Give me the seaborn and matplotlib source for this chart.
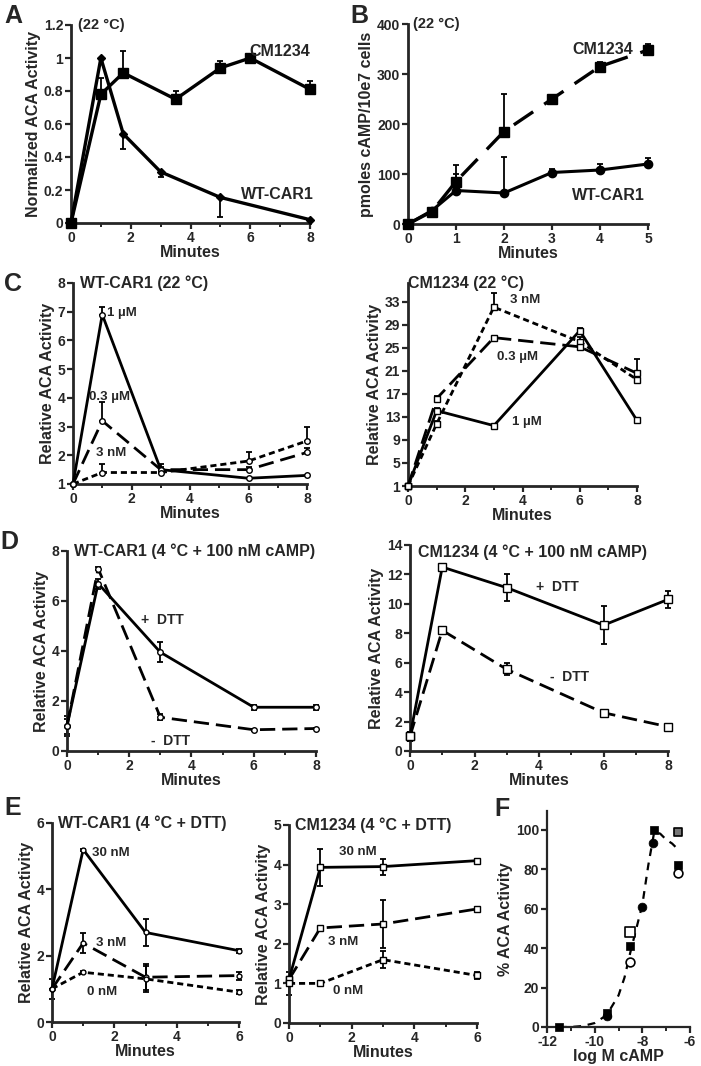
import numpy as np
import pandas as pd
import matplotlib
matplotlib.use("Agg")
import matplotlib.pyplot as plt
import seaborn as sns
from matplotlib.ticker import MultipleLocator

# ---------------- data ----------------
# A: normalized ACA activity (22 C)
a_cm_x = [0, 1, 1.75, 3.5, 5, 6, 8]
a_cm_y = [0, 0.78, 0.91, 0.75, 0.94, 1.0, 0.81]
a_cm_err = [0, 0.10, 0.13, 0.05, 0.04, 0, 0.05]
a_wt_x = [0, 1, 1.75, 3, 5, 8]
a_wt_y = [0, 1.0, 0.54, 0.31, 0.155, 0.02]
a_wt_err = [0, 0, 0.09, 0.03, 0.12, 0]

# B: pmoles cAMP / 10e7 cells
b_x = [0, 0.5, 1, 2, 3, 4, 5]
b_cm_y = [0, 25, 85, 185, 250, 315, 348]
b_cm_err = [0, 5, 33, 75, 8, 10, 12]
b_wt_y = [0, 27, 67, 62, 103, 108, 120]
b_wt_err = [0, 3, 33, 73, 8, 12, 13]

# C: relative ACA activity, dose series (22 C)
c_x = [0, 1, 3, 6, 8]
c_wt_1um = [1, 6.9, 1.5, 1.2, 1.3]
c_wt_1um_err = [0, 0.25, 0.2, 0, 0]
c_wt_03um = [1, 3.2, 1.5, 1.5, 2.1]
c_wt_03um_err = [0, 0.65, 0.1, 0.1, 0.15]
c_wt_3nm = [1, 1.4, 1.4, 1.8, 2.5]
c_wt_3nm_err = [0, 0.3, 0, 0.3, 0.5]
c_cm_3nm = [1, 11.8, 32.1, 26.1, 19.5]
c_cm_3nm_err = [0, 0.5, 2.5, 0.8, 0.8]
c_cm_03um = [1, 16.2, 26.8, 25.2, 20.6]
c_cm_03um_err = [0, 0.5, 0, 0.5, 2.4]
c_cm_1um = [1, 14.1, 11.5, 28.0, 12.4]
c_cm_1um_err = [0, 0.4, 0.3, 0.4, 0.3]

# D: 4 C + 100 nM cAMP, +/- DTT
d_x = [0, 1, 3, 6, 8]
d_wt_plus = [1.0, 6.7, 3.95, 1.75, 1.75]
d_wt_plus_err = [0.4, 0.2, 0.4, 0.1, 0.1]
d_wt_minus = [1.0, 7.3, 1.35, 0.85, 0.9]
d_wt_minus_err = [0.3, 0.05, 0.12, 0.03, 0.03]
d_cm_plus = [1.0, 12.5, 11.1, 8.55, 10.3]
d_cm_plus_err = [0.3, 0.1, 0.9, 1.3, 0.55]
d_cm_minus = [1.0, 8.2, 5.55, 2.6, 1.65]
d_cm_minus_err = [0.3, 0.1, 0.4, 0.1, 0.1]

# E: 4 C + DTT, dose series
e_x = [0, 1, 3, 6]
e_wt_30 = [1.0, 5.2, 2.7, 2.15]
e_wt_30_err = [0, 0.03, 0.4, 0.06]
e_wt_3 = [1.0, 2.38, 1.35, 1.4]
e_wt_3_err = [0, 0.3, 0.4, 0.12]
e_wt_0 = [1.0, 1.5, 1.3, 0.9]
e_wt_0_err = [0.3, 0.03, 0.4, 0.05]
e_cm_30 = [1.1, 3.93, 3.95, 4.1]
e_cm_30_err = [0, 0.47, 0.2, 0.03]
e_cm_3 = [1.1, 2.4, 2.5, 2.88]
e_cm_3_err = [0, 0.03, 0.6, 0.03]
e_cm_0 = [1.0, 1.0, 1.6, 1.2]
e_cm_0_err = [0.3, 0.06, 0.22, 0.1]

# F: dose response
f_curve_x = [-11.5, -11, -10.5, -10, -9.5, -9, -8.75, -8.5, -8.25, -8, -7.75, -7.5, -7.25, -7, -6.75, -6.5]
f_curve_y = [0, 0, 0.5, 2, 6, 16, 25, 38, 50, 62, 82, 99, 98, 95, 93, 90]
f_fsq_x = [-11.5, -9.5, -8.5, -7.5, -6.5]
f_fsq_y = [0, 7, 41, 100, 82]
f_fci_x = [-9.5, -8, -7.55]
f_fci_y = [5.5, 61, 93.5]
f_osq_x = [-8.5]
f_osq_y = [48]
f_oci_x = [-8.5, -6.5]
f_oci_y = [33, 78]
f_gsq_x = [-6.5]
f_gsq_y = [99]

# ---------------- style ----------------
sns.set_style("ticks")
plt.rcParams["font.family"] = ["Liberation Sans", "DejaVu Sans"]
plt.rcParams["font.weight"] = "bold"
plt.rcParams["axes.labelweight"] = "bold"
plt.rcParams["axes.unicode_minus"] = False

W, H = 701, 1066
fig = plt.figure(figsize=(W / 100, H / 100), dpi=100)

LONG = (0, (5.5, 2.5))
SHORT = (0, (2.2, 1.4))


def panel(l, t, r, b):
    return fig.add_axes([l / W, 1 - b / H, (r - l) / W, (b - t) / H])


def draw(ax, x, y, ls="-", marker="o", ms=5, mfc="white", lo=None, hi=None, lw=2.0):
    df = pd.DataFrame({"x": x, "y": y})
    sns.lineplot(data=df, x="x", y="y", ax=ax, color="black", linestyle=ls, lw=lw,
                 marker=marker, markersize=ms, markerfacecolor=mfc,
                 markeredgecolor="black", markeredgewidth=1.0,
                 errorbar=None, clip_on=False, zorder=3)
    if lo is not None or hi is not None:
        lo = [0] * len(x) if lo is None else lo
        hi = [0] * len(x) if hi is None else hi
        ax.errorbar(x, y, yerr=[lo, hi], fmt="none", ecolor="black",
                    elinewidth=1.3, capsize=2.5, capthick=1.3, clip_on=False, zorder=2)


def finish(ax, xlim, ylim, xticks, yticks, ylabel, xlabel="Minutes", xminor=None, ylabels=None):
    ax.set_xlim(xlim)
    ax.set_ylim(ylim)
    ax.set_xticks(xticks)
    ax.set_yticks(yticks)
    if ylabels is not None:
        ax.set_yticklabels(ylabels)
    if xminor:
        ax.xaxis.set_minor_locator(MultipleLocator(xminor))
    sns.despine(ax=ax)
    for s in ["left", "bottom"]:
        ax.spines[s].set_linewidth(2.0)
    ax.tick_params(which="major", width=1.6, length=4, labelsize=10, pad=1.5)
    ax.tick_params(which="minor", width=1.4, length=3)
    ax.set_xlabel(xlabel, fontsize=11.5, labelpad=0)
    ax.set_ylabel(ylabel, fontsize=11.5, labelpad=2)


def letter(x, y, s):
    fig.text(x / W, 1 - y / H, s, fontsize=18, fontweight="bold", va="top", ha="left")


# ---------------- A ----------------
ax = panel(71, 25, 310, 223)
draw(ax, a_cm_x, a_cm_y, "-", "s", 6.5, "black", hi=a_cm_err, lw=2.4)
draw(ax, a_wt_x, a_wt_y, "-", "D", 4.5, "black", lo=a_wt_err, lw=2.4)
finish(ax, (0, 8), (0, 1.2), [0, 2, 4, 6, 8], [0, 0.2, 0.4, 0.6, 0.8, 1.0, 1.2],
       "Normalized ACA Activity", xminor=1,
       ylabels=["0", "0.2", "0.4", "0.6", "0.8", "1", "1.2"])
ax.text(0.03, 1.0, "(22 °C)", transform=ax.transAxes, fontsize=10.5, va="center")
ax.text(7.0, 1.04, "CM1234", fontsize=11.5, ha="center", va="center")
ax.text(6.9, 0.17, "WT-CAR1", fontsize=11.5, ha="center", va="center")
letter(4, 4, "A")

# ---------------- B ----------------
ax = panel(408, 24, 648, 224)
draw(ax, b_x, b_cm_y, (0, (7, 4)), "s", 6.5, "black", hi=b_cm_err, lw=2.4)
draw(ax, b_x, b_wt_y, "-", "o", 6, "black", hi=b_wt_err, lw=2.2)
finish(ax, (0, 5), (0, 400), [0, 1, 2, 3, 4, 5], [0, 100, 200, 300, 400],
       "pmoles cAMP/10e7 cells")
ax.text(0.02, 1.0, "(22 °C)", transform=ax.transAxes, fontsize=10.5, va="center")
ax.text(4.06, 348, "CM1234", fontsize=11.5, ha="center", va="center")
ax.text(4.17, 58, "WT-CAR1", fontsize=11.5, ha="center", va="center")
letter(350, 4, "B")

# ---------------- C left ----------------
ax = panel(73, 283, 307, 484)
draw(ax, c_x, c_wt_1um, "-", "o", 4, "white", hi=c_wt_1um_err)
draw(ax, c_x, c_wt_03um, LONG, "o", 4, "white", hi=c_wt_03um_err)
draw(ax, c_x, c_wt_3nm, SHORT, "o", 4, "white", hi=c_wt_3nm_err)
finish(ax, (0, 8), (1, 8), [0, 2, 4, 6, 8], [1, 2, 3, 4, 5, 6, 7, 8],
       "Relative ACA Activity", xminor=1)
ax.text(0.03, 1.0, "WT-CAR1 (22 °C)", transform=ax.transAxes, fontsize=11.5, va="center")
ax.text(1.68, 6.96, "1 µM", fontsize=9.5, ha="center", va="center")
ax.text(1.26, 4.03, "0.3 µM", fontsize=9.5, ha="center", va="center")
ax.text(1.3, 2.08, "3 nM", fontsize=9.5, ha="center", va="center")
letter(4, 272, "C")

# ---------------- C right ----------------
ax = panel(408, 283, 637, 486)
draw(ax, c_x, c_cm_3nm, SHORT, "s", 4.5, "white", hi=c_cm_3nm_err)
draw(ax, c_x, c_cm_03um, LONG, "s", 4.5, "white", hi=c_cm_03um_err)
draw(ax, c_x, c_cm_1um, "-", "s", 4.5, "white", hi=c_cm_1um_err)
finish(ax, (0, 8), (1, 36.3), [0, 2, 4, 6, 8], [1, 5, 9, 13, 17, 21, 25, 29, 33],
       "Relative ACA Activity", xminor=1)
ax.text(0.0, 1.0, "CM1234 (22 °C)", transform=ax.transAxes, fontsize=11.5, va="center")
ax.text(4.09, 33.4, "3 nM", fontsize=9.5, ha="center", va="center")
ax.text(3.82, 23.5, "0.3 µM", fontsize=9.5, ha="center", va="center")
ax.text(4.15, 12.2, "1 µM", fontsize=9.5, ha="center", va="center")

# ---------------- D left ----------------
ax = panel(67, 551, 316, 751)
draw(ax, d_x, d_wt_plus, "-", "o", 4, "white", lo=d_wt_plus_err, hi=d_wt_plus_err)
draw(ax, d_x, d_wt_minus, LONG, "o", 4, "white", lo=d_wt_minus_err, hi=d_wt_minus_err)
finish(ax, (0, 8), (0, 8), [0, 2, 4, 6, 8], [0, 2, 4, 6, 8],
       "Relative ACA Activity", xminor=1)
ax.text(0.03, 1.0, "WT-CAR1 (4 °C + 100 nM cAMP)", transform=ax.transAxes, fontsize=11.5, va="center")
ax.text(3.08, 5.24, "+  DTT", fontsize=10, ha="center", va="center")
ax.text(3.34, 0.41, "-  DTT", fontsize=10, ha="center", va="center")
letter(0, 530, "D")

# ---------------- D right ----------------
ax = panel(410, 545, 668, 751)
draw(ax, d_x, d_cm_plus, "-", "s", 6, "white", lo=d_cm_plus_err, hi=d_cm_plus_err)
draw(ax, d_x, d_cm_minus, LONG, "s", 6, "white", lo=d_cm_minus_err, hi=d_cm_minus_err)
finish(ax, (0, 8), (0, 14), [0, 2, 4, 6, 8], [0, 2, 4, 6, 8, 10, 12, 14],
       "Relative ACA Activity", xminor=1)
ax.text(0.03, 0.965, "CM1234 (4 °C + 100 nM cAMP)", transform=ax.transAxes, fontsize=11.5, va="center")
ax.text(4.56, 11.15, "+  DTT", fontsize=10, ha="center", va="center")
ax.text(4.96, 5.05, "-  DTT", fontsize=10, ha="center", va="center")

# ---------------- E left ----------------
ax = panel(52, 823, 239, 1022)
draw(ax, e_x, e_wt_30, "-", "o", 3.5, "white", lo=e_wt_30_err, hi=e_wt_30_err)
draw(ax, e_x, e_wt_3, LONG, "o", 3.5, "white", lo=e_wt_3_err, hi=e_wt_3_err)
draw(ax, e_x, e_wt_0, SHORT, "o", 3.5, "white", lo=e_wt_0_err, hi=e_wt_0_err)
finish(ax, (0, 6), (0, 6), [0, 2, 4, 6], [0, 2, 4, 6],
       "Relative ACA Activity", xminor=1)
ax.text(0.03, 1.0, "WT-CAR1 (4 °C + DTT)", transform=ax.transAxes, fontsize=11.5, va="center")
ax.text(1.88, 5.1, "30 nM", fontsize=9.5, ha="center", va="center")
ax.text(1.91, 2.37, "3 nM", fontsize=9.5, ha="center", va="center")
ax.text(1.62, 0.91, "0 nM", fontsize=9.5, ha="center", va="center")
letter(4, 796, "E")

# ---------------- E right ----------------
ax = panel(289, 825, 477, 1023)
draw(ax, e_x, e_cm_30, "-", "s", 4.5, "white", lo=e_cm_30_err, hi=e_cm_30_err)
draw(ax, e_x, e_cm_3, LONG, "s", 4.5, "white", lo=e_cm_3_err, hi=e_cm_3_err)
draw(ax, e_x, e_cm_0, SHORT, "s", 4.5, "white", lo=e_cm_0_err, hi=e_cm_0_err)
finish(ax, (0, 6), (0, 5), [0, 2, 4, 6], [0, 1, 2, 3, 4, 5],
       "Relative ACA Activity", xminor=1)
ax.text(0.03, 1.0, "CM1234 (4 °C + DTT)", transform=ax.transAxes, fontsize=11.5, va="center")
ax.text(2.19, 4.33, "30 nM", fontsize=9.5, ha="center", va="center")
ax.text(1.74, 2.05, "3 nM", fontsize=9.5, ha="center", va="center")
ax.text(1.87, 0.82, "0 nM", fontsize=9.5, ha="center", va="center")

# ---------------- F ----------------
ax = panel(547, 811, 690, 1027)
sns.lineplot(x=f_curve_x, y=f_curve_y, ax=ax, color="black", linestyle=(0, (3.5, 3)),
             lw=1.6, errorbar=None, sort=False, zorder=2)
sns.scatterplot(x=f_fsq_x, y=f_fsq_y, ax=ax, marker="s", s=40, color="black",
                edgecolor="black", clip_on=False, zorder=3)
sns.scatterplot(x=f_fci_x, y=f_fci_y, ax=ax, marker="o", s=40, color="black",
                edgecolor="black", clip_on=False, zorder=3)
sns.scatterplot(x=f_osq_x, y=f_osq_y, ax=ax, marker="s", s=45, color="white",
                edgecolor="black", linewidth=1.2, clip_on=False, zorder=4)
sns.scatterplot(x=f_oci_x, y=f_oci_y, ax=ax, marker="o", s=40, color="white",
                edgecolor="black", linewidth=1.2, clip_on=False, zorder=4)
sns.scatterplot(x=f_gsq_x, y=f_gsq_y, ax=ax, marker="s", s=40, color="#777777",
                edgecolor="black", linewidth=1.2, clip_on=False, zorder=4)
finish(ax, (-12, -6), (0, 109.5), [-12, -10, -8, -6], [0, 20, 40, 60, 80, 100],
       "% ACA Activity", xlabel="log M cAMP", xminor=1)
for s in ["left", "bottom"]:
    ax.spines[s].set_linewidth(1.6)
letter(494, 797, "F")

fig.savefig("out.png", dpi=100)
